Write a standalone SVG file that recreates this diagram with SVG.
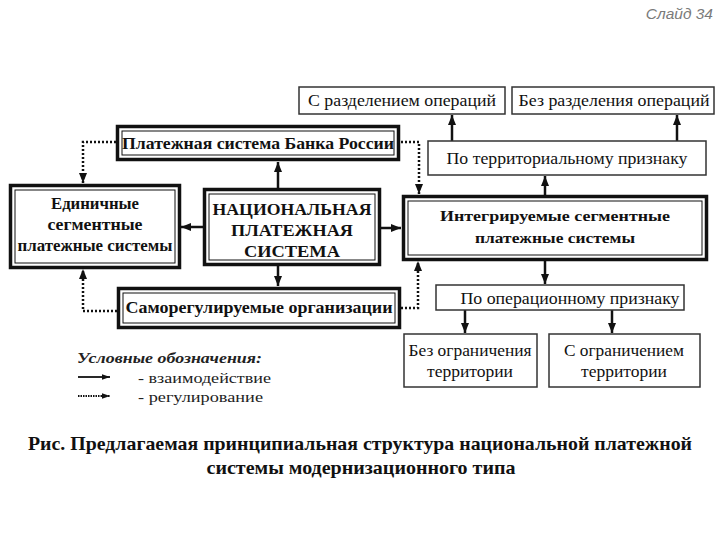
<svg xmlns="http://www.w3.org/2000/svg" width="720" height="540" viewBox="0 0 720 540">
<style>
  .bg { fill: #ffffff; }
  .outer { fill: #ffffff; stroke: #111; stroke-width: 3.5; }
  .inner { fill: none; stroke: #111; stroke-width: 1; }
  .plain { fill: #ffffff; stroke: #333; stroke-width: 1.5; }
  .b { font-family: "Liberation Serif", "Times New Roman", serif; font-weight: bold; fill: #111; text-anchor: middle; }
  .r { font-family: "Liberation Serif", "Times New Roman", serif; fill: #111; text-anchor: middle; }
  .lg { font-family: "Liberation Serif", "Times New Roman", serif; fill: #222; }
  .solid { fill: none; stroke: #111; stroke-width: 2.5; marker-end: url(#ah); }
  .dot { fill: none; stroke: #111; stroke-width: 2.5; stroke-dasharray: 2 2; marker-end: url(#ah); }
</style>
<defs>
  <marker id="ah" markerUnits="userSpaceOnUse" markerWidth="10" markerHeight="10" viewBox="0 0 10 10" refX="10" refY="5" orient="auto">
    <path d="M0,1 L10,5 L0,9 Z" fill="#111"/>
  </marker>
  <marker id="ahs" markerUnits="userSpaceOnUse" markerWidth="8" markerHeight="8" viewBox="0 0 10 10" refX="10" refY="5" orient="auto">
    <path d="M0,1.5 L10,5 L0,8.5 Z" fill="#111"/>
  </marker>
</defs>
<rect class="bg" x="0" y="0" width="720" height="540"/>

<text x="713" y="19" font-family="Liberation Sans, Arial, sans-serif" font-style="italic" font-size="15.5" fill="#7a7a7a" text-anchor="end">Слайд 34</text>

<g id="connectors">
  <line class="solid" x1="278" y1="188" x2="278" y2="162"/>
  <line class="solid" x1="203" y1="227" x2="181" y2="227"/>
  <line class="solid" x1="380" y1="228" x2="401" y2="228"/>
  <line class="solid" x1="278" y1="265" x2="278" y2="286"/>
  <line class="solid" x1="545" y1="195" x2="545" y2="176"/>
  <line class="solid" x1="452" y1="141" x2="452" y2="115"/>
  <line class="solid" x1="677" y1="141" x2="677" y2="115"/>
  <line class="solid" x1="545" y1="260" x2="545" y2="284"/>
  <line class="solid" x1="465" y1="310" x2="465" y2="333"/>
  <line class="solid" x1="612" y1="310" x2="612" y2="333"/>
  <polyline class="dot" points="116,142 83,142 83,183"/>
  <polyline class="dot" points="401,142 419,142 419,194"/>
  <polyline class="dot" points="117,311 83,311 83,269"/>
  <polyline class="dot" points="401,308 418,308 418,261"/>
</g>

<g id="n-razd">
  <rect class="plain" x="299" y="87" width="206" height="27"/>
  <text class="r" x="402" y="106" font-size="16.5" textLength="188" lengthAdjust="spacingAndGlyphs">С разделением операций</text>
</g>
<g id="n-bezrazd">
  <rect class="plain" x="512" y="87" width="202" height="27"/>
  <text class="r" x="614" y="106" font-size="16.5" textLength="191" lengthAdjust="spacingAndGlyphs">Без разделения операций</text>
</g>
<g id="n-bank">
  <rect class="outer" x="117.5" y="126.5" width="281" height="33"/>
  <rect class="inner" x="122" y="131" width="272" height="24"/>
  <text class="b" x="258" y="149" font-size="16.5" textLength="272" lengthAdjust="spacingAndGlyphs">Платежная система Банка России</text>
</g>
<g id="n-terr">
  <rect class="plain" x="428" y="141" width="278" height="34"/>
  <text class="r" x="567" y="164" font-size="16.5" textLength="241" lengthAdjust="spacingAndGlyphs">По территориальному признаку</text>
</g>
<g id="n-edin">
  <rect class="outer" x="10.5" y="185.5" width="169" height="82"/>
  <rect class="inner" x="15" y="190" width="160" height="73"/>
  <text class="b" x="95" y="209" font-size="16" textLength="88" lengthAdjust="spacingAndGlyphs">Единичные</text>
  <text class="b" x="95" y="230" font-size="16" textLength="95" lengthAdjust="spacingAndGlyphs">сегментные</text>
  <text class="b" x="95" y="251" font-size="16" textLength="155" lengthAdjust="spacingAndGlyphs">платежные системы</text>
</g>
<g id="n-nps">
  <rect class="outer" x="204.5" y="189.5" width="175" height="75"/>
  <rect class="inner" x="209" y="194" width="166" height="66"/>
  <text class="b" x="292" y="215" font-size="17.5" textLength="159" lengthAdjust="spacingAndGlyphs">НАЦИОНАЛЬНАЯ</text>
  <text class="b" x="292" y="236" font-size="17.5" textLength="122" lengthAdjust="spacingAndGlyphs">ПЛАТЕЖНАЯ</text>
  <text class="b" x="292" y="257" font-size="17.5" textLength="96" lengthAdjust="spacingAndGlyphs">СИСТЕМА</text>
</g>
<g id="n-integr">
  <rect class="outer" x="403.5" y="196.5" width="303" height="63"/>
  <rect class="inner" x="408" y="201" width="294" height="54"/>
  <text class="b" x="555" y="221" font-size="15.5" textLength="230" lengthAdjust="spacingAndGlyphs">Интегрируемые сегментные</text>
  <text class="b" x="555" y="243" font-size="15.5" textLength="160" lengthAdjust="spacingAndGlyphs">платежные системы</text>
</g>
<g id="n-samoreg">
  <rect class="outer" x="118.5" y="288.5" width="281" height="39"/>
  <rect class="inner" x="123" y="293" width="272" height="30"/>
  <text class="b" x="259" y="313" font-size="16.5" textLength="267" lengthAdjust="spacingAndGlyphs">Саморегулируемые организации</text>
</g>
<g id="n-oper">
  <rect class="plain" x="436" y="285" width="248" height="25"/>
  <text class="r" x="570" y="304" font-size="16.5" textLength="219" lengthAdjust="spacingAndGlyphs">По операционному признаку</text>
</g>
<g id="n-bezogr">
  <rect class="plain" x="404" y="334" width="133" height="53"/>
  <text class="r" x="470" y="356" font-size="16.5" textLength="123" lengthAdjust="spacingAndGlyphs">Без ограничения</text>
  <text class="r" x="470" y="377" font-size="16.5" textLength="86" lengthAdjust="spacingAndGlyphs">территории</text>
</g>
<g id="n-sogr">
  <rect class="plain" x="549" y="334" width="151" height="53"/>
  <text class="r" x="624" y="356" font-size="16.5" textLength="120" lengthAdjust="spacingAndGlyphs">С ограничением</text>
  <text class="r" x="624" y="377" font-size="16.5" textLength="86" lengthAdjust="spacingAndGlyphs">территории</text>
</g>

<g id="legend">
  <text class="lg" x="77" y="363" font-weight="bold" font-style="italic" font-size="15.5" fill="#111" textLength="185" lengthAdjust="spacingAndGlyphs">Условные обозначения:</text>
  <line x1="78" y1="377" x2="110" y2="377" stroke="#111" stroke-width="1.8" marker-end="url(#ahs)"/>
  <line x1="78" y1="396" x2="110" y2="396" stroke="#111" stroke-width="1.8" stroke-dasharray="1.5 1" marker-end="url(#ahs)"/>
  <text class="lg" x="138" y="383" font-size="15" textLength="133" lengthAdjust="spacingAndGlyphs">- взаимодействие</text>
  <text class="lg" x="138" y="402" font-size="15" textLength="125" lengthAdjust="spacingAndGlyphs">- регулирование</text>
</g>

<g id="caption">
  <text class="b" x="360" y="450" font-size="19" textLength="664" lengthAdjust="spacingAndGlyphs">Рис. Предлагаемая принципиальная структура национальной платежной</text>
  <text class="b" x="361" y="474" font-size="19" textLength="309" lengthAdjust="spacingAndGlyphs">системы модернизационного типа</text>
</g>
</svg>
